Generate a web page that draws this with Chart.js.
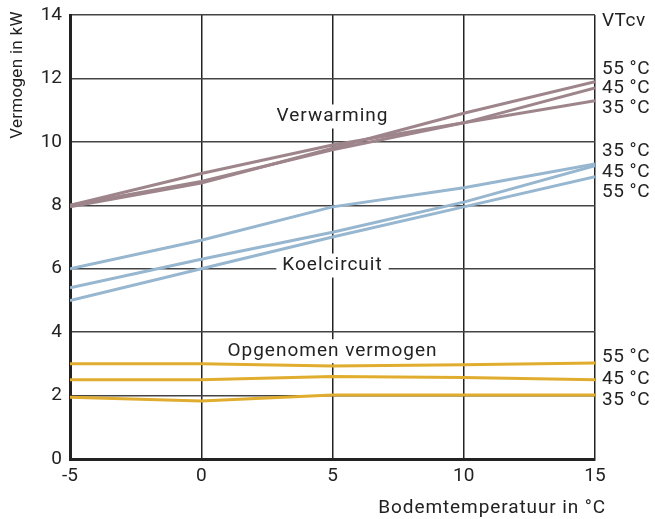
<!DOCTYPE html>
<html>
<head>
<meta charset="utf-8">
<script src="https://cdn.jsdelivr.net/npm/chart.js@4"></script>
<style>
  html, body { margin: 0; padding: 0; background: #fff; }
  #wrap { width: 655px; height: 519px; }
</style>
</head>
<body>
<div id="wrap"><canvas id="chart"></canvas></div>
<script>
const temps = [-5, 0, 5, 10, 15];

const heat35 = [8.0, 9.0, 9.9, 10.6, 11.3];
const heat45 = [8.0, 8.75, 9.75, 10.6, 11.7];
const heat55 = [7.95, 8.7, 9.8, 10.9, 11.9];

const cool35 = [6.0, 6.9, 7.95, 8.55, 9.3];
const cool45 = [5.4, 6.3, 7.15, 8.1, 9.25];
const cool55 = [5.0, 6.0, 7.0, 7.95, 8.9];

const power35 = [1.95, 1.83, 2.02, 2.02, 2.02];
const power45 = [2.5, 2.5, 2.6, 2.57, 2.5];
const power55 = [3.0, 3.0, 2.93, 2.97, 3.03];

const yTicks = [0, 2, 4, 6, 8, 10, 12, 14];
const xTicks = [-5, 0, 5, 10, 15];

// curve labels: [text, x value, y value]
const groupLabels = [
  ['Verwarming', 5, 10.8],
  ['Koelcircuit', 5, 6.1],
  ['Opgenomen vermogen', 5, 3.4],
];
// right side labels: [text, y value]
const sideLabels = [
  ['VTcv', 13.8],
  ['55 °C', 12.3], ['45 °C', 11.7], ['35 °C', 11.05],
  ['35 °C', 9.7], ['45 °C', 9.05], ['55 °C', 8.4],
  ['55 °C', 3.2], ['45 °C', 2.5], ['35 °C', 1.85],
];

const FONT = 'Roboto, "DejaVu Sans", sans-serif';
const TXT = '#222';

function series(ys, color) {
  return {
    data: temps.map((t, i) => ({ x: t, y: ys[i] })),
    borderColor: color,
    borderWidth: 3,
    pointRadius: 0,
    tension: 0,
    fill: false,
  };
}

const MAUVE = '#9e858b';
const BLUE = '#97b6cf';
const GOLD = '#e0ad2e';

const labelPlugin = {
  id: 'labels',
  beforeDatasetsDraw(chart) {
    const { ctx, scales: { x, y } } = chart;
    ctx.save();
    ctx.font = '19px ' + FONT;
    ctx.letterSpacing = '1px';
    ctx.textBaseline = 'middle';
    ctx.textAlign = 'center';
    groupLabels.forEach(([t, xv, yv]) => {
      const px = x.getPixelForValue(xv);
      const py = y.getPixelForValue(yv);
      const w = ctx.measureText(t).width;
      ctx.fillStyle = '#fff';
      ctx.fillRect(px - w / 2 - 6, py - 12, w + 12, 24);
      ctx.fillStyle = TXT;
      ctx.fillText(t, px, py);
    });
    ctx.restore();
  },
  afterDraw(chart) {
    const { ctx, scales: { x, y } } = chart;
    ctx.save();
    ctx.font = '19px ' + FONT;
    ctx.letterSpacing = '0.5px';
    ctx.fillStyle = TXT;
    ctx.textBaseline = 'middle';
    ctx.textAlign = 'left';
    const rx = x.right + 7;
    sideLabels.forEach(([t, yv]) => {
      ctx.fillText(t, rx, y.getPixelForValue(yv));
    });
    // axis titles
    ctx.font = '19px ' + FONT;
    ctx.letterSpacing = '0.9px';
    ctx.textAlign = 'right';
    ctx.fillText('Bodemtemperatuur in °C', x.right + 11, 508);
    ctx.font = '17px ' + FONT;
    ctx.letterSpacing = '0.3px';
    ctx.translate(18, 75);
    ctx.rotate(-Math.PI / 2);
    ctx.textAlign = 'center';
    ctx.fillText('Vermogen in kW', 0, 0);
    ctx.restore();
  },
};

new Chart(document.getElementById('chart'), {
  type: 'line',
  data: {
    datasets: [
      series(heat35, MAUVE), series(heat45, MAUVE), series(heat55, MAUVE),
      series(cool35, BLUE), series(cool45, BLUE), series(cool55, BLUE),
      series(power35, GOLD), series(power45, GOLD), series(power55, GOLD),
    ],
  },
  options: {
    responsive: true,
    maintainAspectRatio: false,
    animation: false,
    events: [],
    layout: { padding: { top: 15, right: 60, left: 0, bottom: 0 } },
    plugins: { legend: { display: false }, tooltip: { enabled: false } },
    scales: {
      x: {
        type: 'linear',
        min: -5,
        max: 15,
        afterBuildTicks(s) { s.ticks = xTicks.map((v) => ({ value: v })); },
        afterFit(s) { s.height = 60; s.paddingLeft = 0; s.paddingRight = 0; },
        grid: { color: '#222', lineWidth: 1.5, drawTicks: false },
        border: { color: '#222', width: 3 },
        ticks: { color: TXT, font: { family: FONT, size: 19 }, padding: 6 },
      },
      y: {
        min: 0,
        max: 14,
        afterBuildTicks(s) { s.ticks = yTicks.map((v) => ({ value: v })); },
        afterFit(s) { s.width = 70; s.paddingTop = 0; s.paddingBottom = 0; },
        grid: { color: '#444', lineWidth: 1.5, drawTicks: false },
        border: { color: '#222', width: 3 },
        ticks: { color: TXT, font: { family: FONT, size: 19 }, padding: 8 },
      },
    },
  },
  plugins: [labelPlugin],
});
</script>
</body>
</html>
